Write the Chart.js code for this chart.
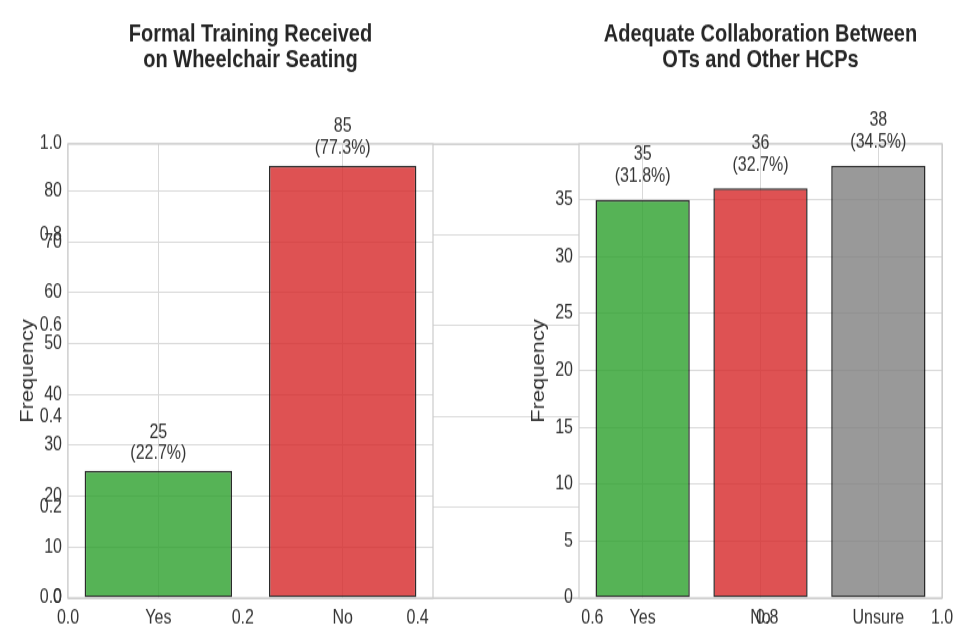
<!DOCTYPE html>
<html>
<head>
<meta charset="utf-8">
<script src="https://cdn.jsdelivr.net/npm/chart.js@4.4.1/dist/chart.umd.min.js"></script>
<style>
  body { margin: 0; background: #fff; }
  #wrap { position: relative; width: 972px; height: 626px; overflow: hidden; }
  /* the reference figure is stretched vertically, so the canvases are too */
  #wrap canvas { position: absolute; left: 0; top: 0; transform-origin: 0 0; transform: scaleY(1.2203); }
</style>
</head>
<body>
<div id="wrap">
  <canvas id="back" width="972" height="513"></canvas>
  <canvas id="left" width="972" height="513"></canvas>
  <canvas id="right" width="972" height="513"></canvas>
</div>
<script>
// data
var trainingCats = ['Yes', 'No'];
var trainingCounts = [25, 85];
var trainingPcts = ['22.7%', '77.3%'];
var trainingTicks = [0, 10, 20, 30, 40, 50, 60, 70, 80];

var collabCats = ['Yes', 'No', 'Unsure'];
var collabCounts = [35, 36, 38];
var collabPcts = ['31.8%', '32.7%', '34.5%'];
var collabTicks = [0, 5, 10, 15, 20, 25, 30, 35];

var backTicks = [0, 0.2, 0.4, 0.6, 0.8, 1.0];

var FONT = "'Liberation Sans', Arial, sans-serif";
var GRID = '#d9d9d9';
var FRAME = '#cccccc';
var TXT = '#333333';

function setTicks(arr) {
    return function (scale) {
        scale.ticks = arr.map(function (v) { return { value: v }; });
    };
}

// white plot area, frame, title, bar labels, y label
var panelPlugin = {
    id: 'panel',
    beforeDraw: function (chart, args, opts) {
        var a = chart.chartArea, ctx = chart.ctx;
        if (opts.fill) {
            ctx.save();
            ctx.fillStyle = '#ffffff';
            ctx.fillRect(a.left, a.top, a.right - a.left, a.bottom - a.top);
            ctx.restore();
        }
    },
    afterDraw: function (chart, args, opts) {
        var a = chart.chartArea, ctx = chart.ctx;
        ctx.save();
        ctx.strokeStyle = FRAME;
        ctx.lineWidth = 1.2;
        ctx.strokeRect(a.left, a.top, a.right - a.left, a.bottom - a.top);

        if (opts.title) {
            ctx.fillStyle = '#262626';
            ctx.font = 'bold 20px ' + FONT;
            ctx.textAlign = 'center';
            ctx.textBaseline = 'alphabetic';
            var cx = (a.left + a.right) / 2;
            ctx.fillText(opts.title[0], cx, 34.4);
            ctx.fillText(opts.title[1], cx, 54.9);
        }

        if (opts.counts) {
            var xs = chart.scales.x, ys = chart.scales.y;
            ctx.fillStyle = TXT;
            ctx.font = '16px ' + FONT;
            ctx.textAlign = 'center';
            ctx.textBaseline = 'middle';
            for (var i = 0; i < opts.counts.length; i++) {
                var px = xs.getPixelForValue(i);
                var py = ys.getPixelForValue(opts.counts[i] + 1);
                ctx.fillText(String(opts.counts[i]), px, py - 27.5);
                ctx.fillText('(' + opts.pcts[i] + ')', px, py - 9.6);
            }
        }

        if (opts.ylabel) {
            ctx.fillStyle = TXT;
            ctx.translate(a.left - 40, (a.top + a.bottom) / 2);
            ctx.rotate(-Math.PI / 2);
            ctx.font = '18px ' + FONT;
            ctx.textAlign = 'center';
            ctx.textBaseline = 'middle';
            ctx.fillText(opts.ylabel, 0, 0);
        }
        ctx.restore();
    }
};

function tickFont() {
    return { family: FONT, size: 16 };
}

// background axes 0..1
new Chart('back', {
    type: 'scatter',
    data: { datasets: [{ data: [] }] },
    options: {
        responsive: false,
        animation: false,
        devicePixelRatio: 1,
        layout: { padding: { left: 8, right: 30, top: 118, bottom: 0 } },
        plugins: { legend: { display: false }, tooltip: { enabled: false }, panel: {} },
        scales: {
            x: {
                type: 'linear', min: 0, max: 1, offset: false,
                afterBuildTicks: setTicks(backTicks),
                afterFit: function (s) { s.height = 23; },
                grid: { color: GRID, drawTicks: false },
                border: { display: false },
                ticks: { color: TXT, font: tickFont(), padding: 7, maxRotation: 0,
                    callback: function (v) { return v.toFixed(1); } }
            },
            y: {
                type: 'linear', min: 0, max: 1,
                afterBuildTicks: setTicks(backTicks),
                afterFit: function (s) { s.width = 60; },
                grid: { color: GRID, drawTicks: false },
                border: { display: false },
                ticks: { color: TXT, font: tickFont(), padding: 6,
                    callback: function (v) { return v.toFixed(1); } }
            }
        }
    },
    plugins: [panelPlugin]
});

function barPanel(id, cats, counts, pcts, yTicks, colors, title, xRange, pad) {
    var pts = counts.map(function (v, i) { return { x: i, y: v }; });
    return new Chart(id, {
        type: 'bar',
        data: {
            datasets: [{
                data: pts,
                backgroundColor: colors,
                borderColor: 'rgba(20,20,20,0.9)',
                borderWidth: 1.5,
                borderSkipped: false,
                categoryPercentage: 1,
                barPercentage: 0.8
            }]
        },
        options: {
            responsive: false,
            animation: false,
            devicePixelRatio: 1,
            layout: { padding: pad },
            plugins: {
                legend: { display: false },
                tooltip: { enabled: false },
                panel: { fill: true, title: title, counts: counts, pcts: pcts, ylabel: 'Frequency' }
            },
            scales: {
                x: {
                    type: 'linear', min: xRange[0], max: xRange[1], offset: false,
                    afterBuildTicks: setTicks(cats.map(function (c, i) { return i; })),
                    afterFit: function (s) { s.height = 23; },
                    grid: { color: GRID, drawTicks: false, offset: false },
                    border: { display: false },
                    ticks: { color: TXT, font: tickFont(), padding: 7, maxRotation: 0,
                        callback: function (v) { return cats[v]; } }
                },
                y: {
                    type: 'linear', min: 0, max: Math.max.apply(null, counts) * 1.05,
                    afterBuildTicks: setTicks(yTicks),
                    afterFit: function (s) { s.width = 60; },
                    grid: { color: GRID, drawTicks: false },
                    border: { display: false },
                    ticks: { color: TXT, font: tickFont(), padding: 6 }
                }
            }
        },
        plugins: [panelPlugin]
    });
}

barPanel('left', trainingCats, trainingCounts, trainingPcts, trainingTicks,
    ['rgba(44,160,44,0.8)', 'rgba(214,39,40,0.8)'],
    ['Formal Training Received', 'on Wheelchair Seating'],
    [-0.49, 1.49],
    { left: 8, right: 972 - 433, top: 118, bottom: 0 });

barPanel('right', collabCats, collabCounts, collabPcts, collabTicks,
    ['rgba(44,160,44,0.8)', 'rgba(214,39,40,0.8)', 'rgba(127,127,127,0.8)'],
    ['Adequate Collaboration Between', 'OTs and Other HCPs'],
    [-0.54, 2.54],
    { left: 579 - 60, right: 30, top: 118, bottom: 0 });
</script>
</body>
</html>
